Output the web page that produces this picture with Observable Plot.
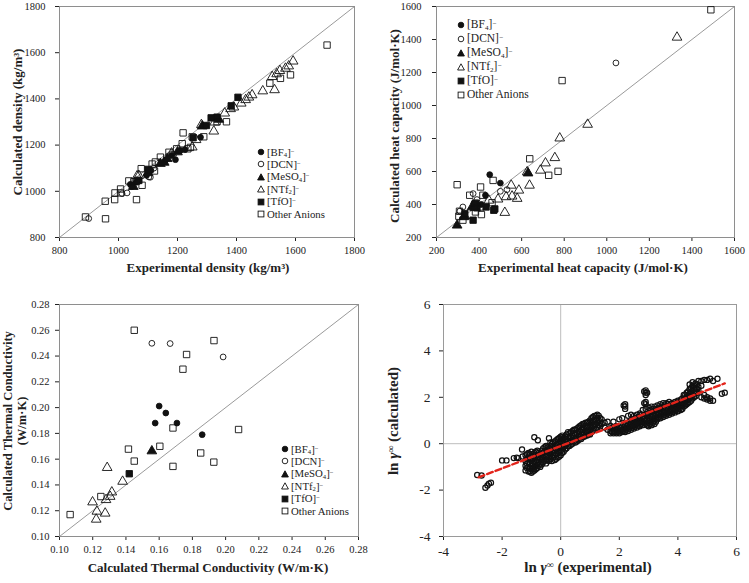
<!DOCTYPE html>
<html><head><meta charset="utf-8">
<script src="https://cdn.jsdelivr.net/npm/d3@7"></script>
<script src="https://cdn.jsdelivr.net/npm/@observablehq/plot@0.6"></script>
<style>
body{margin:0;background:#fff;}
#root{position:relative;width:749px;height:583px;overflow:hidden;font-family:"Liberation Serif","Times New Roman",serif;color:#222;background:#fff;}
.panel{position:absolute;}
.title{position:absolute;font-weight:bold;white-space:nowrap;transform:translate(-50%,-50%);line-height:1;}
.vtitle{position:absolute;font-weight:bold;white-space:nowrap;transform:translate(-50%,-50%) rotate(-90deg);text-align:center;}
.leg{position:absolute;white-space:nowrap;display:flex;align-items:center;line-height:1;}
.leg svg{margin-right:2px;flex:none;}
sub{font-size:62%;vertical-align:baseline;position:relative;top:0.2em;line-height:0;}
sup{font-size:62%;vertical-align:baseline;position:relative;top:-0.3em;line-height:0;}
.title sup,.vtitle sup{top:-0.4em;font-size:65%;}
</style></head><body><div id="root"></div>
<script>
// ---------- Panel 1: density (kg/m3) [experimental, calculated] ----------
const densBF4 = [[1040,1030],[1060,1040],[1095,1069],[1110,1090],[1159,1134],[1193,1137],[1180,1155],[1210,1177],[1225,1180],[1278,1234]];
const densDCN = [[899,882],[1012,990],[1029,993],[1103,1062],[1108,1061],[1045,1020],[1065,1040],[1120,1100],[1180,1160],[1205,1175]];
const densMeSO4 = [[1050,1020],[1100,1080],[1142,1120],[1155,1125],[1165,1141],[1200,1170],[1284,1282],[1340,1311]];
const densNTf2 = [[1063,1066],[1069,1068],[1180,1165],[1250,1191],[1263,1223],[1281,1288],[1323,1260],[1326,1299],[1360,1338],[1380,1357],[1391,1364],[1416,1381],[1431,1396],[1442,1407],[1453,1417],[1489,1434],[1529,1439],[1521,1496],[1536,1508],[1547,1522],[1566,1532],[1577,1542],[1592,1563]];
const densTfO = [[1069,1047],[1100,1095],[1253,1232],[1298,1285],[1314,1318],[1334,1321],[1382,1370],[1405,1407]];
const densOther = [[888,889],[955,957],[956,881],[988,993],[987,964],[1007,1010],[1007,993],[1035,1045],[1052,1042],[1061,964],[1077,1098],[1080,1026],[1063,1047],[1114,1118],[1122,1088],[1142,1148],[1125,1127],[1171,1169],[1197,1184],[1219,1253],[1216,1206],[1235,1184],[1244,1190],[1250,1236],[1289,1236],[1334,1301],[1366,1301],[1513,1468],[1549,1489],[1583,1504],[1707,1633]];
const densTicks = [800,1000,1200,1400,1600,1800];

// ---------- Panel 2: heat capacity (J/mol·K) ----------
const cpBF4 = [[450,581],[500,530],[430,456],[375,405],[410,400]];
const cpDCN = [[324,385],[372,466],[500,480],[531,490],[1043,1258],[390,430],[310,360]];
const cpMeSO4 = [[297,274],[328,325],[333,329],[367,385],[380,380],[630,590]];
const cpNTf2 = [[521,351],[551,516],[555,450],[579,436],[587,486],[489,432],[527,446],[637,516],[626,597],[688,607],[712,651],[756,683],[779,802],[910,885],[1330,1413],[446,425]];
const cpTfO = [[372,305],[469,365],[433,385],[333,345],[383,405],[390,380],[474,373]];
const cpOther = [[297,520],[308,359],[305,329],[324,305],[356,456],[383,409],[383,355],[406,385],[407,506],[466,546],[418,456],[461,411],[411,339],[638,677],[727,577],[771,601],[790,1151],[1489,1580]];
const cpTicks = [200,400,600,800,1000,1200,1400,1600];

// ---------- Panel 3: thermal conductivity (W/m·K) ----------
const tcBF4 = [[0.160,0.2012],[0.164,0.1958],[0.1576,0.188],[0.1707,0.188],[0.1859,0.179]];
const tcDCN = [[0.1556,0.2499],[0.1666,0.2497],[0.1985,0.2393]];
const tcMeSO4 = [[0.1556,0.1663]];
const tcNTf2 = [[0.1287,0.1534],[0.138,0.1427],[0.1315,0.1344],[0.1305,0.131],[0.128,0.1285],[0.1199,0.1267],[0.1225,0.1195],[0.1221,0.1133],[0.1275,0.118]];
const tcTfO = [[0.142,0.1487]];
const tcOther = [[0.1064,0.117],[0.145,0.260],[0.193,0.252],[0.1765,0.2412],[0.1743,0.2298],[0.1683,0.1842],[0.2078,0.183],[0.1415,0.1678],[0.1604,0.170],[0.185,0.1648],[0.145,0.1585],[0.1929,0.1577],[0.1683,0.1544],[0.1249,0.131]];
const tcTicks = [0.10,0.12,0.14,0.16,0.18,0.20,0.22,0.24,0.26,0.28];

// ---------- Panel 4: ln gamma infinity ----------
// columns of points: [ln γ∞ experimental, [ln γ∞ calculated values]]
const gammaCols = [
[-1.2,[-0.5,-0.75,-0.95,-1.15]],
[-1.1,[-0.4,-0.6,-0.8,-1.0,-1.2]],
[-1.0,[-0.35,-0.55,-0.75,-0.95,-1.1,-1.25]],
[-0.9,[-0.4,-0.6,-0.8,-1.0,-1.15]],
[-0.8,[-0.3,-0.5,-0.7,-0.9,-1.05]],
[-0.7,[-0.45,-0.65,-0.85,-1.0]],
[-0.6,[-0.2,-0.4,-0.6,-0.8]],
[-0.5,[-0.1,-0.3,-0.5,-0.7,-0.85]],
[-0.4,[-0.2,-0.4,-0.6,-0.75]],
[-0.3,[0.0,-0.15,-0.35,-0.55,-0.75]],
[-0.2,[0.1,-0.1,-0.3,-0.5,-0.7]],
[-0.1,[0.2,0.0,-0.2,-0.4,-0.6]],
[0.0,[0.3,0.1,-0.1,-0.3,-0.5]],
[0.1,[0.25,0.05,-0.15,-0.35]],
[0.2,[0.4,0.2,0.0,-0.2]],
[0.3,[0.45,0.25,0.05,-0.1]],
[0.4,[0.55,0.35,0.15,0.0]],
[0.5,[0.6,0.4,0.2,0.05]],
[0.6,[0.7,0.5,0.3,0.15]],
[0.7,[0.8,0.6,0.4,0.2]],
[0.8,[0.85,0.65,0.45,0.3]],
[0.9,[0.9,0.7,0.5,0.35]],
[1.0,[1.0,0.8,0.6,0.4]],
[1.1,[1.15,0.95,0.75,0.55]],
[1.2,[1.2,1.05,0.85,0.65]],
[1.3,[1.2,1.0,0.8]],
[1.4,[1.05,0.85]],
[1.5,[0.9,0.7]],
[1.6,[0.95,0.6]],
[1.7,[0.75,0.55,0.45]],
[1.8,[0.95,0.7,0.55,0.45]],
[1.9,[0.75,0.6,0.45]],
[2.0,[1.05,0.7,0.55,0.45]],
[2.1,[1.1,0.75,0.6,0.5]],
[2.2,[1.7,1.6,1.5,0.8,0.65,0.5]],
[2.3,[1.2,0.85,0.7,0.55]],
[2.4,[1.25,0.9,0.75,0.6]],
[2.5,[1.2,0.95,0.8,0.65]],
[2.6,[1.25,1.0,0.85,0.7]],
[2.7,[1.3,1.05,0.9,0.75]],
[2.8,[1.45,1.2,0.95,0.8]],
[2.9,[2.3,2.2,2.1,1.8,1.7,1.5,1.25,1.0,0.85]],
[3.0,[1.55,1.3,1.1,0.9,0.75]],
[3.1,[1.6,1.35,1.15,0.95,0.8]],
[3.2,[1.6,1.4,1.2,1.0,0.85]],
[3.3,[1.65,1.45,1.25,1.05]],
[3.4,[1.7,1.5,1.3,1.1]],
[3.5,[1.75,1.55,1.35,1.15]],
[3.6,[1.75,1.55,1.35,1.2]],
[3.7,[1.8,1.6,1.4,1.25]],
[3.8,[1.75,1.6,1.45,1.3]],
[3.9,[1.8,1.65,1.5,1.35]],
[4.0,[1.85,1.7,1.55,1.4]],
[4.1,[1.9,1.75,1.6,1.45]],
[4.2,[2.1,1.9,1.75,1.6]],
[4.3,[2.2,2.0,1.85,1.7]],
[4.4,[2.55,2.35,2.15,1.95,1.8]],
[4.5,[2.65,2.5,2.3,2.1,1.95]],
[4.6,[2.6,2.4,2.2,2.05]],
[4.7,[2.7,2.45,2.3]],
[4.8,[2.7,2.5,2.0]],
[4.9,[2.75,2.1,1.95]],
[5.0,[2.75,2.0,1.9]],
[5.1,[2.8,1.95,1.85]],
[5.2,[2.7,1.85]],
[5.35,[2.8]]
];
// second, interleaved set of columns in the dense band
const gammaColsB = [
[-1.15,[-0.45,-0.65,-0.85,-1.05]],
[-1.05,[-0.45,-0.65,-0.85,-1.05,-1.2]],
[-0.95,[-0.45,-0.65,-0.85,-1.05,-1.2]],
[-0.85,[-0.35,-0.55,-0.75,-0.95,-1.1]],
[-0.75,[-0.4,-0.6,-0.8,-0.95]],
[-0.65,[-0.3,-0.5,-0.7,-0.9]],
[-0.55,[-0.15,-0.35,-0.55,-0.75]],
[-0.45,[-0.15,-0.35,-0.55,-0.7]],
[-0.35,[-0.1,-0.25,-0.45,-0.65]],
[-0.25,[0.05,-0.2,-0.4,-0.6]],
[-0.15,[0.15,-0.05,-0.25,-0.45,-0.65]],
[-0.05,[0.25,0.05,-0.15,-0.35,-0.55]],
[0.05,[0.35,0.2,0.0,-0.2,-0.4]],
[0.15,[0.3,0.1,-0.1,-0.25]],
[0.25,[0.5,0.3,0.1,-0.1]],
[0.35,[0.5,0.3,0.1,-0.05]],
[0.45,[0.6,0.45,0.25,0.1]],
[0.55,[0.65,0.45,0.25,0.1]],
[0.65,[0.75,0.55,0.35,0.2]],
[0.75,[0.85,0.7,0.5,0.3]],
[0.85,[0.9,0.75,0.55,0.35]],
[0.95,[0.95,0.75,0.55,0.4]],
[1.05,[1.1,0.9,0.7,0.5]],
[1.15,[1.2,1.0,0.8,0.6]],
[1.25,[1.25,1.1,0.9,0.7]],
[1.35,[1.1,0.9,0.75]],
[1.75,[0.7,0.5]],
[1.85,[0.65,0.5]],
[1.95,[0.65,0.5]],
[2.05,[0.7,0.55]],
[2.15,[1.65,0.7,0.55]],
[2.25,[0.75,0.6]],
[2.35,[0.95,0.8,0.65]],
[2.45,[1.05,0.85,0.7]],
[2.55,[1.1,0.9,0.75]],
[2.65,[1.15,0.95,0.8]],
[2.75,[1.25,1.0,0.85]],
[2.85,[2.25,1.75,1.1,0.9]],
[2.95,[2.2,1.2,1.0,0.8]],
[3.05,[1.45,1.2,1.0,0.85]],
[3.15,[1.5,1.25,1.05,0.9]],
[3.25,[1.5,1.3,1.1,0.95]],
[3.35,[1.55,1.35,1.15]],
[3.45,[1.6,1.4,1.2]],
[3.55,[1.65,1.45,1.25]],
[3.65,[1.7,1.5,1.3]],
[3.75,[1.7,1.5,1.35]],
[3.85,[1.7,1.55,1.4]],
[3.95,[1.75,1.6,1.45]],
[4.05,[1.8,1.65,1.5]],
[4.15,[1.95,1.8,1.65,1.5]],
[4.25,[2.1,1.95,1.8,1.65]],
[4.35,[2.25,2.05,1.9,1.75]],
[4.45,[2.4,2.2,2.0,1.85]],
[4.55,[2.5,2.35,2.15,2.0]],
[4.65,[2.55,2.35,2.2]]
];
const gammaSparse = [[-2.85,-1.35],[-2.7,-1.37],[-2.57,-1.9],[-2.5,-1.8],[-2.45,-1.72],[-2.38,-1.68],[-2.0,-0.72],[-1.85,-0.72],[-1.6,-0.62],[-1.5,-0.6],[-1.45,-0.62],[-1.32,-0.25],[-1.3,-0.55],[-0.9,0.28],[-0.78,0.15],[-0.4,0.24],[-0.35,0.05],[5.5,2.15],[5.6,2.2]];
const fitX = [-2.8, 5.6];
const fitY = [-1.45, 2.6];
const gammaTicks = [-4,-2,0,2,4,6];
const zeroLine = [0];

// ---------- shared ----------
const groups = [
 {name:"BF4", symbol:"circle", filled:true, label:"[BF<sub>4</sub>]<sup>−</sup>"},
 {name:"DCN", symbol:"circle", filled:false, label:"[DCN]<sup>−</sup>"},
 {name:"MeSO4", symbol:"triangle", filled:true, label:"[MeSO<sub>4</sub>]<sup>−</sup>"},
 {name:"NTf2", symbol:"triangle", filled:false, label:"[NTf<sub>2</sub>]<sup>−</sup>"},
 {name:"TfO", symbol:"square", filled:true, label:"[TfO]<sup>−</sup>"},
 {name:"Other", symbol:"square", filled:false, label:"Other Anions"}
];
const INK = "#111";
const root = document.getElementById("root");

function toRows(sets) {
  const rows = [];
  groups.forEach((g, i) => sets[i].forEach(([x, y]) => rows.push({x, y, g: g.name})));
  return rows;
}

function scatterPanel({sets, ticks, fmt, w, h, m, pad}) {
  const rows = toRows(sets);
  const dom = [ticks[0], ticks[ticks.length - 1]];
  const marks = [
    Plot.line(dom.map(v => ({x: v, y: v})), {x: "x", y: "y", stroke: "#9a9a9a", strokeWidth: 1}),
    Plot.frame({stroke: "#8e8e8e", strokeWidth: 1})
  ];
  for (const g of groups) {
    const r = g.symbol === "circle" ? 2.9 : 3.6;
    marks.push(Plot.dot(rows.filter(d => d.g === g.name), {
      x: "x", y: "y", symbol: g.symbol, r,
      fill: g.filled ? INK : "none", stroke: INK, strokeWidth: 0.9
    }));
  }
  return Plot.plot({
    width: w, height: h,
    marginLeft: m[0], marginRight: m[1], marginTop: m[2], marginBottom: m[3],
    style: {fontFamily: '"Liberation Serif", serif', fontSize: "10.5px", color: "#222", background: "transparent"},
    x: {domain: dom, ticks, tickFormat: fmt, tickSize: 4, tickPadding: pad[0], label: null},
    y: {domain: dom, ticks, tickFormat: fmt, tickSize: 4, tickPadding: pad[1], label: null},
    marks
  });
}

function place(node, left, top) {
  const d = document.createElement("div");
  d.className = "panel"; d.style.left = left + "px"; d.style.top = top + "px";
  d.appendChild(node); root.appendChild(d);
}
function addTitle(html, cx, cy, size, vertical, lh) {
  const d = document.createElement("div");
  d.className = vertical ? "vtitle" : "title";
  d.style.left = cx + "px"; d.style.top = cy + "px"; d.style.fontSize = size + "px";
  d.style.lineHeight = (lh || size) + "px";
  d.innerHTML = html; root.appendChild(d);
}
function markerSVG(g) {
  const f = g.filled ? INK : "none";
  let s;
  if (g.symbol === "circle") s = `<circle cx="4" cy="4" r="2.8" fill="${f}" stroke="${INK}" stroke-width="0.9"/>`;
  else if (g.symbol === "square") s = `<rect x="1.1" y="1.1" width="5.8" height="5.8" fill="${f}" stroke="${INK}" stroke-width="0.9"/>`;
  else s = `<polygon points="4,0.8 7.4,7 0.6,7" fill="${f}" stroke="${INK}" stroke-width="0.9"/>`;
  return `<svg width="8" height="8" viewBox="0 0 8 8">${s}</svg>`;
}
function addLegend(mx, y0, dy, size) {
  groups.forEach((g, i) => {
    const d = document.createElement("div");
    d.className = "leg";
    d.style.left = (mx - 4) + "px";
    d.style.top = (y0 + i * dy - size / 2) + "px";
    d.style.height = size + "px";
    d.style.fontSize = size + "px";
    d.innerHTML = markerSVG(g) + `<span>${g.label}</span>`;
    root.appendChild(d);
  });
}

const intFmt = d3.format("d");
const twoFmt = d3.format(".2f");
const plainFmt = d => String(d);

// Panel 1
place(scatterPanel({sets: [densBF4, densDCN, densMeSO4, densNTf2, densTfO, densOther], ticks: densTicks, fmt: intFmt,
  w: 375, h: 290, m: [59, 21, 6, 53], pad: [5, 10]}), 0, 0);
addTitle("Experimental density (kg/m³)", 208, 267, 13, false);
addTitle("Calculated density (kg/m³)", 17, 122, 13, true);
addLegend(261, 152, 12.4, 10.8);

// Panel 2
place(scatterPanel({sets: [cpBF4, cpDCN, cpMeSO4, cpNTf2, cpTfO, cpOther], ticks: cpTicks, fmt: intFmt,
  w: 374, h: 290, m: [61, 15, 6, 53], pad: [5, 11]}), 375, 0);
addTitle("Experimental heat capacity (J/mol·K)", 583, 267, 13, false);
addTitle("Calculated heat capacity (J/mol·K)", 394, 126, 13, true);
addLegend(461, 25, 14, 11.5);

// Panel 3
place(scatterPanel({sets: [tcBF4, tcDCN, tcMeSO4, tcNTf2, tcTfO, tcOther], ticks: tcTicks, fmt: twoFmt,
  w: 375, h: 293, m: [59, 17, 14, 47], pad: [5, 6]}), 0, 290);
addTitle("Calculated Thermal Conductivity (W/m·K)", 208, 567, 13, false);
addTitle("Calculated Thermal Conductivity<br>(W/m·K)", 15, 421, 12.5, true, 13.5);
addLegend(285, 449, 12.4, 10.8);

// Panel 4
const gammaRows = [];
gammaCols.forEach(([x, ys]) => ys.forEach(y => gammaRows.push({x, y})));
gammaColsB.forEach(([x, ys]) => ys.forEach(y => gammaRows.push({x, y})));
gammaSparse.forEach(([x, y]) => gammaRows.push({x, y}));
const fitRows = fitX.map((x, i) => ({x, y: fitY[i]}));
place(Plot.plot({
  width: 374, height: 293,
  marginLeft: 68, marginRight: 13, marginTop: 14, marginBottom: 47,
  style: {fontFamily: '"Liberation Serif", serif', fontSize: "13.5px", color: "#222", background: "transparent"},
  x: {domain: [-4, 6], ticks: gammaTicks, tickFormat: plainFmt, tickSize: 4, tickPadding: 6, label: null},
  y: {domain: [-4, 6], ticks: gammaTicks, tickFormat: plainFmt, tickSize: 4, tickPadding: 9, label: null},
  marks: [
    Plot.ruleX(zeroLine, {stroke: "#bdbdbd", strokeWidth: 1}),
    Plot.ruleY(zeroLine, {stroke: "#bdbdbd", strokeWidth: 1}),
    Plot.frame({stroke: "#9a9a9a", strokeWidth: 1}),
    Plot.dot(gammaRows, {x: "x", y: "y", r: 2.6, fill: "none", stroke: INK, strokeWidth: 1.2}),
    Plot.line(fitRows, {x: "x", y: "y", stroke: "#e3241b", strokeWidth: 2.4, strokeDasharray: "6,3"})
  ]
}), 375, 290);
addTitle("ln <i>γ</i><sup>∞</sup> (experimental)", 588, 567, 15, false);
addTitle("ln <i>γ</i><sup>∞</sup> (calculated)", 393, 421, 15, true);
</script></body></html>
